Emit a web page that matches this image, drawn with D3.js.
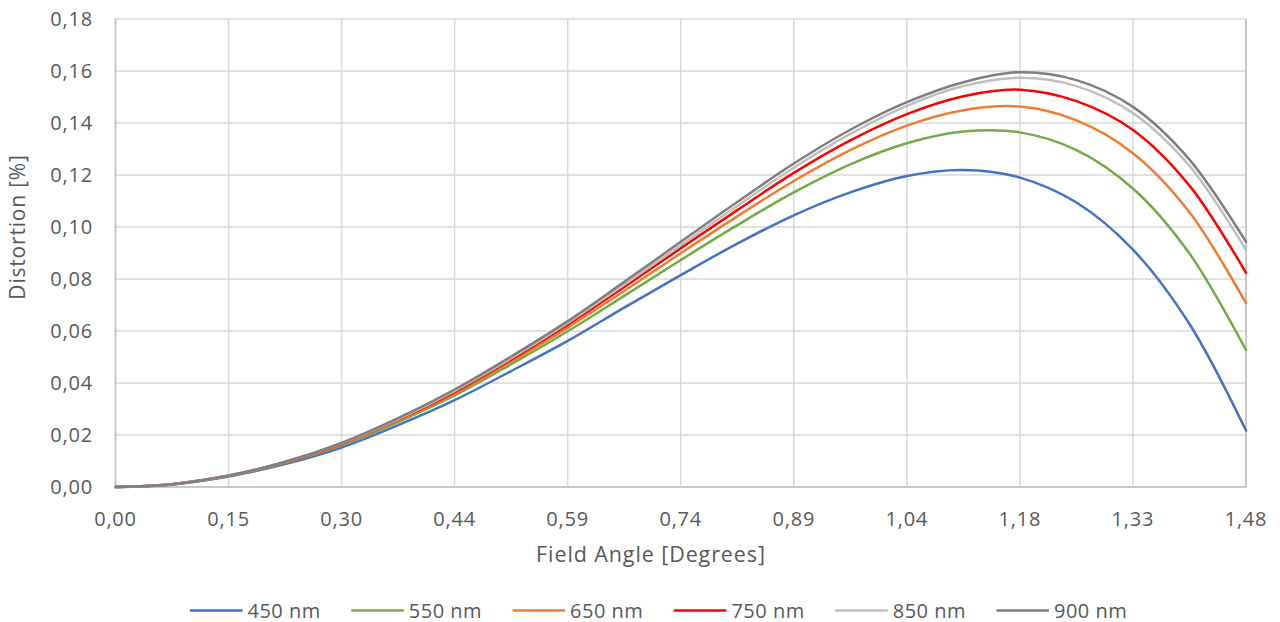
<!DOCTYPE html>
<html>
<head>
<meta charset="utf-8">
<script src="https://cdn.jsdelivr.net/npm/d3@7"></script>
<style>
  body { margin: 0; background: #fff; }
  text { font-family: "Open Sans", "Noto Sans", sans-serif; fill: #595959; }
</style>
</head>
<body>
<div id="chart"></div>
<script>
// field angle in degrees, evenly spaced category points
const angles = [0, 0.074, 0.148, 0.222, 0.296, 0.37, 0.444, 0.518, 0.592, 0.666, 0.74,
  0.814, 0.888, 0.962, 1.036, 1.11, 1.184, 1.258, 1.332, 1.406, 1.48];

const nm450 = [0, 0.0010, 0.0040, 0.0088, 0.0152, 0.0238, 0.0334, 0.0446, 0.0562, 0.0690, 0.0815,
  0.0936, 0.1045, 0.1133, 0.1196, 0.1219, 0.1190, 0.1094, 0.0913, 0.0627, 0.0217];
const nm550 = [0, 0.0010, 0.0042, 0.0092, 0.0160, 0.0250, 0.0352, 0.0472, 0.0599, 0.0735, 0.0873,
  0.1007, 0.1133, 0.1241, 0.1322, 0.1367, 0.1364, 0.1296, 0.1148, 0.0898, 0.0527];
const nm650 = [0, 0.0011, 0.0043, 0.0094, 0.0163, 0.0255, 0.0359, 0.0482, 0.0613, 0.0754, 0.0899,
  0.1041, 0.1177, 0.1296, 0.1390, 0.1449, 0.1463, 0.1410, 0.1284, 0.1057, 0.0707];
const nm750 = [0, 0.0011, 0.0043, 0.0095, 0.0166, 0.0259, 0.0365, 0.0490, 0.0624, 0.0769, 0.0918,
  0.1065, 0.1208, 0.1333, 0.1434, 0.1503, 0.1528, 0.1484, 0.1373, 0.1159, 0.0824];
const nm850 = [0, 0.0011, 0.0044, 0.0096, 0.0168, 0.0261, 0.0370, 0.0495, 0.0631, 0.0778, 0.0930,
  0.1081, 0.1228, 0.1358, 0.1466, 0.1542, 0.1574, 0.1542, 0.1438, 0.1235, 0.0912];
const nm900 = [0, 0.0011, 0.0044, 0.0097, 0.0170, 0.0265, 0.0375, 0.0502, 0.0638, 0.0789, 0.0943,
  0.1096, 0.1244, 0.1374, 0.1480, 0.1557, 0.1595, 0.1565, 0.1462, 0.1259, 0.0943];

const seriesNames = ["450 nm", "550 nm", "650 nm", "750 nm", "850 nm", "900 nm"];
const seriesColors = ["#4472c4", "#70ad47", "#ed7d31", "#ff0000", "#bfbfbf", "#7f7f7f"];

const xTicks = [0, 0.148, 0.296, 0.444, 0.592, 0.74, 0.888, 1.036, 1.184, 1.332, 1.48];
const xTickLabels = ["0,00", "0,15", "0,30", "0,44", "0,59", "0,74", "0,89", "1,04", "1,18", "1,33", "1,48"];
const yTicks = [0, 0.02, 0.04, 0.06, 0.08, 0.10, 0.12, 0.14, 0.16, 0.18];

const width = 1280, height = 622;
const margin = { top: 19, right: 34, bottom: 135, left: 115.5 };

const svg = d3.select("#chart")
  .append("svg")
  .attr("width", width)
  .attr("height", height);

const x = d3.scaleLinear()
  .domain([0, 1.48])
  .range([margin.left, width - margin.right]);

const y = d3.scaleLinear()
  .domain([0, 0.18])
  .range([height - margin.bottom, margin.top]);

// gridlines
svg.append("g")
  .selectAll("line")
  .data(yTicks)
  .join("line")
  .attr("x1", x(0))
  .attr("x2", x(1.48))
  .attr("y1", d => y(d))
  .attr("y2", d => y(d))
  .attr("stroke", "#d9d9d9")
  .attr("stroke-width", 1.5);

svg.append("g")
  .selectAll("line")
  .data(xTicks)
  .join("line")
  .attr("x1", d => x(d))
  .attr("x2", d => x(d))
  .attr("y1", y(0))
  .attr("y2", y(0.18))
  .attr("stroke", "#d9d9d9")
  .attr("stroke-width", 1.5);

// axis lines
svg.append("g")
  .attr("stroke", "#bfbfbf")
  .attr("stroke-width", 1.5)
  .call(g => g.append("line")
    .attr("x1", x(0)).attr("x2", x(0))
    .attr("y1", y(0)).attr("y2", y(0.18)))
  .call(g => g.append("line")
    .attr("x1", x(1.48)).attr("x2", x(1.48))
    .attr("y1", y(0)).attr("y2", y(0.18)))
  .call(g => g.append("line")
    .attr("x1", x(0)).attr("x2", x(1.48))
    .attr("y1", y(0)).attr("y2", y(0)));

// tick labels
svg.append("g")
  .selectAll("text")
  .data(yTicks)
  .join("text")
  .attr("x", 93)
  .attr("y", d => y(d))
  .attr("dy", "0.35em")
  .attr("text-anchor", "end")
  .attr("font-size", 20)
  .attr("letter-spacing", 0.8)
  .text(d => d3.format(".2f")(d).replace(".", ","));

svg.append("g")
  .selectAll("text")
  .data(xTicks)
  .join("text")
  .attr("x", d => x(d))
  .attr("y", 519)
  .attr("dy", "0.35em")
  .attr("text-anchor", "middle")
  .attr("font-size", 20)
  .attr("letter-spacing", 0.8)
  .text((d, i) => xTickLabels[i]);

// axis titles
svg.append("text")
  .attr("transform", "translate(18,227) rotate(-90)")
  .attr("dy", "0.35em")
  .attr("text-anchor", "middle")
  .attr("font-size", 21)
  .attr("letter-spacing", 0.8)
  .text("Distortion [%]");

svg.append("text")
  .attr("x", 651)
  .attr("y", 554)
  .attr("dy", "0.35em")
  .attr("text-anchor", "middle")
  .attr("font-size", 21.5)
  .attr("letter-spacing", 0.9)
  .text("Field Angle [Degrees]");

// series
const allSeries = [nm450, nm550, nm650, nm750, nm850, nm900];

const line = d3.line()
  .x((d, i) => x(angles[i]))
  .y(d => y(d))
  .curve(d3.curveCatmullRom.alpha(0.5));

svg.append("g")
  .attr("fill", "none")
  .attr("stroke-width", 2.5)
  .attr("stroke-linejoin", "round")
  .attr("stroke-linecap", "round")
  .selectAll("path")
  .data(allSeries)
  .join("path")
  .attr("stroke", (d, i) => seriesColors[i])
  .attr("d", line);

// legend
const legend = svg.append("g")
  .selectAll("g")
  .data(seriesNames)
  .join("g")
  .attr("transform", (d, i) => `translate(${190 + i * 161.3},610.5)`);

legend.append("line")
  .attr("x1", 0)
  .attr("x2", 52.5)
  .attr("stroke", (d, i) => seriesColors[i])
  .attr("stroke-width", 2.5);

legend.append("text")
  .attr("x", 57.5)
  .attr("dy", "0.35em")
  .attr("font-size", 20)
  .attr("letter-spacing", 0.5)
  .text(d => d);
</script>
</body>
</html>
